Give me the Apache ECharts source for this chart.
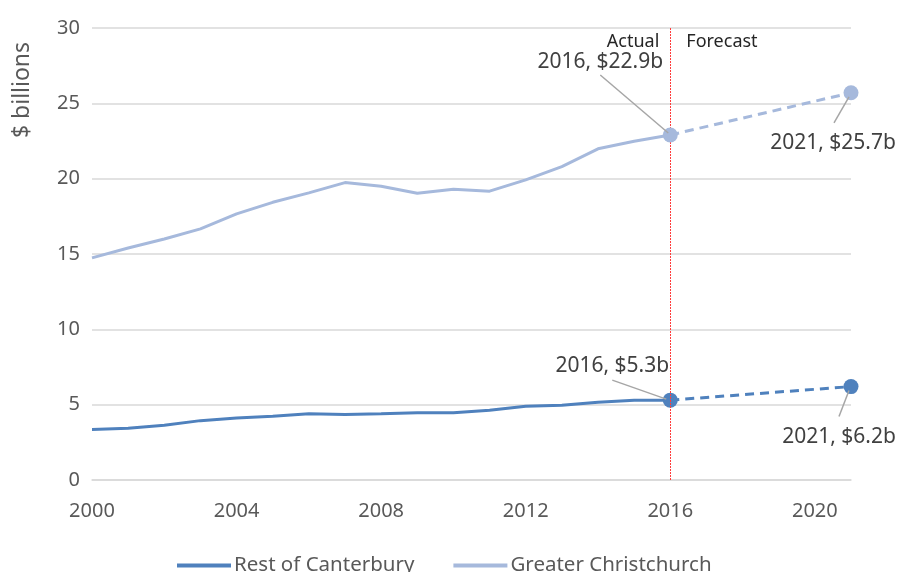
<!DOCTYPE html>
<html>
<head>
<meta charset="utf-8">
<script src="https://cdn.jsdelivr.net/npm/echarts@6/dist/echarts.min.js"></script>
<style>
  html, body { margin: 0; padding: 0; background: #fff; }
  #chart { width: 899px; height: 572px; }
</style>
</head>
<body>
<div id="chart"></div>
<script>
// years on the category axis
var years = ['2000','2001','2002','2003','2004','2005','2006','2007','2008','2009','2010',
             '2011','2012','2013','2014','2015','2016','2017','2018','2019','2020','2021'];
// actual values 2000-2016, $ billions
var restOfCanterbury = [3.36, 3.43, 3.63, 3.94, 4.12, 4.23, 4.39, 4.34, 4.39, 4.47, 4.47,
                        4.63, 4.89, 4.96, 5.16, 5.29, 5.3];
var greaterChristchurch = [14.74, 15.4, 16.0, 16.67, 17.66, 18.43, 19.06, 19.74, 19.5, 19.03, 19.3,
                           19.17, 19.92, 20.8, 21.98, 22.48, 22.9];
// forecast end points
var forecastYears = ['2016', '2021'];
var restForecast = [5.3, 6.2];
var gcForecast = [22.9, 25.7];
var yTicks = [0, 5, 10, 15, 20, 25, 30];

var darkBlue = '#4f81bd';
var lightBlue = '#a6b9dc';
var fontFam = 'Noto Sans';

var chart = echarts.init(document.getElementById('chart'));

function forecastData(vals) {
    var out = [];
    for (var i = 0; i < forecastYears.length; i++) {
        out.push([forecastYears[i], vals[i]]);
    }
    return out;
}

// label offsets from the points: [dx, dy]
var restOffsets = [[-58, -34], [-12, 50]];
var gcOffsets = [[-70, -73], [-18, 50]];
// leader lines: [startDx, startDy, endDx, endDy] relative to the point
var restLeaders = [[-58, -20, -4, -1], [-12, 30, -2, 4]];
var gcLeaders = [[-70, -60, -2, -2], [-17, 30, -2, 4]];

function forecastSeries(name, vals, color, offsets, z) {
    return {
        name: name,
        type: 'line',
        data: forecastData(vals),
        symbol: 'circle',
        symbolSize: 15,
        lineStyle: { color: color, width: 3, type: [9, 6] },
        itemStyle: { color: color },
        z: z,
        label: {
            show: true,
            position: 'inside',
            formatter: function (p) {
                return p.value[0] + ', $' + p.value[1].toFixed(1) + 'b';
            },
            fontFamily: fontFam,
            fontSize: 21,
            color: '#404040'
        },
        labelLayout: function (p) {
            return { dx: offsets[p.dataIndex][0], dy: offsets[p.dataIndex][1] };
        }
    };
}

var gcSeries = forecastSeries('GC forecast', gcForecast, lightBlue, gcOffsets, 5);
// red divider between actual and forecast, drawn above the markers
gcSeries.markLine = {
    silent: true,
    symbol: 'none',
    label: { show: false },
    lineStyle: { color: '#ff3b3b', type: [2, 1], width: 1 },
    data: [
        { xAxis: '2016', lineStyle: { color: '#ff3b3b', type: [2, 1], width: 1 } }
    ]
};

chart.setOption({
    animation: false,
    grid: { left: 92, right: 48, top: 28, bottom: 92, containLabel: false },
    xAxis: {
        type: 'category',
        data: years,
        boundaryGap: false,
        axisTick: { show: false },
        axisLine: { lineStyle: { color: '#d9d9d9', width: 1.5 } },
        axisLabel: {
            interval: 3,
            margin: 21,
            fontFamily: fontFam,
            fontSize: 20,
            color: '#595959'
        }
    },
    yAxis: {
        type: 'value',
        min: yTicks[0],
        max: yTicks[yTicks.length - 1],
        interval: 5,
        axisLine: { show: false },
        axisTick: { show: false },
        splitLine: { lineStyle: { color: '#d9d9d9', width: 1.5 } },
        axisLabel: {
            margin: 12,
            fontFamily: fontFam,
            fontSize: 20,
            color: '#595959'
        }
    },
    legend: {
        top: 550,
        left: 172,
        data: ['Rest of Canterbury', 'Greater Christchurch'],
        icon: 'rect',
        itemWidth: 54,
        itemHeight: 4,
        itemGap: 39,
        textStyle: { fontFamily: fontFam, fontSize: 20.5, color: '#595959', padding: [0, 0, 0, -2] }
    },
    series: [
        {
            name: 'Rest of Canterbury',
            type: 'line',
            data: restOfCanterbury,
            showSymbol: false,
            symbol: 'none',
            lineStyle: { color: darkBlue, width: 3 },
            itemStyle: { color: darkBlue },
            z: 3
        },
        {
            name: 'Greater Christchurch',
            type: 'line',
            data: greaterChristchurch,
            showSymbol: false,
            symbol: 'none',
            lineStyle: { color: lightBlue, width: 3 },
            itemStyle: { color: lightBlue },
            z: 3
        },
        forecastSeries('Rest forecast', restForecast, darkBlue, restOffsets, 4),
        gcSeries
    ]
});

// Actual / Forecast captions, leader lines, y axis title
var divX = chart.convertToPixel({ xAxisIndex: 0 }, '2016');
var graphics = [
    {
        type: 'text', x: divX - 11, y: 42,
        style: { text: 'Actual', fontFamily: fontFam, fontSize: 18, fill: '#262626',
                 align: 'right', verticalAlign: 'middle' }
    },
    {
        type: 'text', x: divX + 16, y: 42,
        style: { text: 'Forecast', fontFamily: fontFam, fontSize: 18, fill: '#262626',
                 align: 'left', verticalAlign: 'middle' }
    },
    {
        type: 'text', x: 22, y: 90, rotation: Math.PI / 2,
        style: { text: '$ billions', fontFamily: fontFam, fontSize: 23, fill: '#595959',
                 align: 'center', verticalAlign: 'middle' }
    }
];
function addLeaders(vals, leaders) {
    for (var i = 0; i < forecastYears.length; i++) {
        var pt = chart.convertToPixel({ gridIndex: 0 }, [forecastYears[i], vals[i]]);
        var l = leaders[i];
        graphics.push({
            type: 'line', z: 10,
            shape: { x1: pt[0] + l[0], y1: pt[1] + l[1], x2: pt[0] + l[2], y2: pt[1] + l[3] },
            style: { stroke: '#a6a6a6', lineWidth: 1.5 }
        });
    }
}
addLeaders(restForecast, restLeaders);
addLeaders(gcForecast, gcLeaders);
chart.setOption({ graphic: graphics });
</script>
</body>
</html>
